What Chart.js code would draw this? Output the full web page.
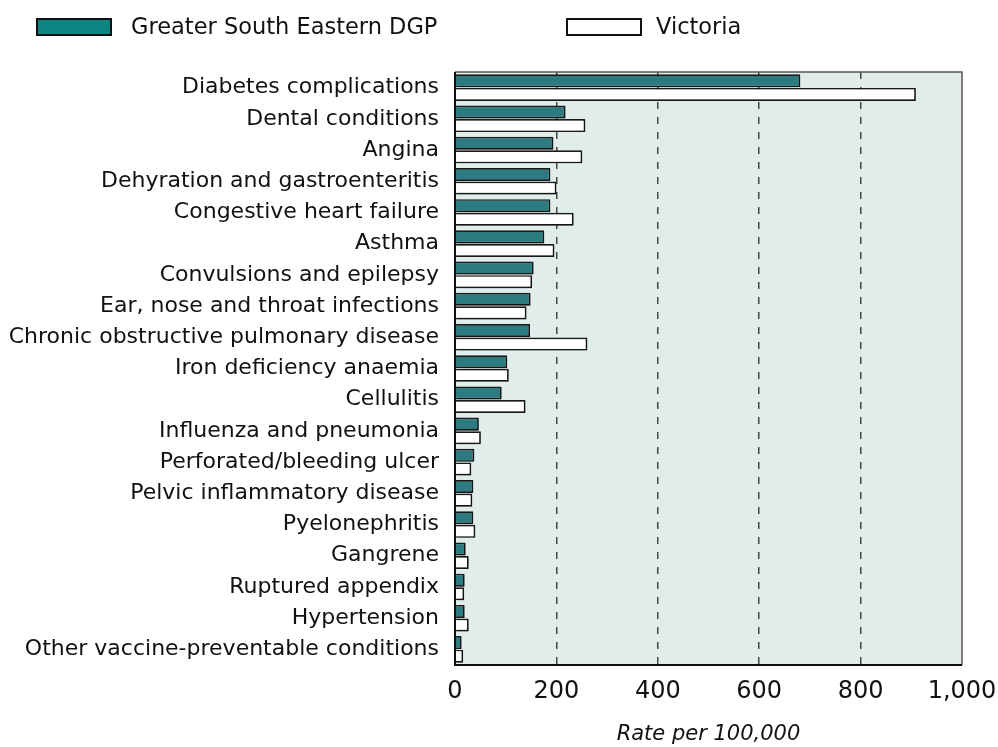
<!DOCTYPE html>
<html>
<head>
<meta charset="utf-8">
<script src="https://cdn.jsdelivr.net/npm/chart.js@4"></script>
<style>
  html, body { margin: 0; padding: 0; background: #fff; }
  #wrap { width: 998px; height: 747px; }
</style>
</head>
<body>
<div id="wrap"><canvas id="barChart" width="998" height="747"></canvas></div>
<script>
var conditions = [
    'Diabetes complications', 'Dental conditions', 'Angina', 'Dehyration and gastroenteritis',
    'Congestive heart failure', 'Asthma', 'Convulsions and epilepsy', 'Ear, nose and throat infections',
    'Chronic obstructive pulmonary disease', 'Iron deficiency anaemia', 'Cellulitis',
    'Influenza and pneumonia', 'Perforated/bleeding ulcer', 'Pelvic inflammatory disease',
    'Pyelonephritis', 'Gangrene', 'Ruptured appendix', 'Hypertension', 'Other vaccine-preventable conditions'
];
var southEastern = [681, 218, 194, 188, 188, 176, 155, 149, 148, 103, 92, 47, 38, 36, 36, 21, 19, 19, 13];
var victoria = [909, 257, 251, 200, 234, 196, 152, 141, 261, 106, 139, 51, 32, 34, 40, 27, 18, 27, 16];
var seriesNames = ['Greater South Eastern DGP', 'Victoria'];
var xTicks = [0, 200, 400, 600, 800, 1000];

var FONT = '"DejaVu Sans", sans-serif';

// background, frame and legend drawn around the chart area
var frame = {
    id: 'frame',
    beforeDraw: function (chart) {
        var a = chart.chartArea, ctx = chart.ctx;
        ctx.save();
        ctx.fillStyle = '#e1edeb';
        ctx.fillRect(a.left, a.top, a.right - a.left, a.bottom - a.top);
        ctx.restore();
    },
    beforeDatasetsDraw: function (chart) {
        var ctx = chart.ctx;
        ctx.save();
        ctx.shadowColor = 'rgba(0,0,0,0.22)';
        ctx.shadowOffsetX = 2;
        ctx.shadowOffsetY = 1;
        ctx.shadowBlur = 0;
    },
    afterDatasetsDraw: function (chart) {
        chart.ctx.restore();
    },
    afterDraw: function (chart) {
        var a = chart.chartArea, ctx = chart.ctx;
        ctx.save();
        ctx.strokeStyle = '#555';
        ctx.lineWidth = 1.5;
        ctx.beginPath();
        ctx.moveTo(a.left, a.top);
        ctx.lineTo(a.right, a.top);
        ctx.lineTo(a.right, a.bottom);
        ctx.stroke();
        ctx.strokeStyle = '#111';
        ctx.lineWidth = 2;
        ctx.beginPath();
        ctx.moveTo(a.left, a.top);
        ctx.lineTo(a.left, a.bottom);
        ctx.lineTo(a.right, a.bottom);
        ctx.stroke();

        // legend
        var items = [
            { x: 37, gap: 94, color: '#0d8582', text: seriesNames[0] },
            { x: 567, gap: 89, color: '#ffffff', text: seriesNames[1] }
        ];
        ctx.font = '22.5px ' + FONT;
        ctx.textBaseline = 'middle';
        items.forEach(function (it) {
            ctx.fillStyle = it.color;
            ctx.fillRect(it.x, 19, 74, 16);
            ctx.strokeStyle = '#111';
            ctx.lineWidth = 2;
            ctx.strokeRect(it.x, 19, 74, 16);
            ctx.fillStyle = '#111';
            ctx.fillText(it.text, it.x + it.gap, 28);
        });
        ctx.restore();
    }
};

var data = {
    labels: conditions,
    datasets: [{
        label: seriesNames[0],
        data: southEastern,
        backgroundColor: '#2b7b80',
        borderColor: '#1a1a1a',
        borderWidth: 1.7,
    },
    {
        label: seriesNames[1],
        data: victoria,
        backgroundColor: '#ffffff',
        borderColor: '#1a1a1a',
        borderWidth: 1.7,
    }]
};

var config = {
    type: 'bar',
    data: data,
    options: {
        indexAxis: 'y',
        responsive: false,
        animation: false,
        categoryPercentage: 0.87,
        barPercentage: 0.96,
        layout: { padding: { top: 72, right: 36, left: 0, bottom: 0 } },
        plugins: {
            legend: { display: false },
            tooltip: { enabled: false }
        },
        scales: {
            x: {
                min: 0,
                max: 1000,
                afterBuildTicks: function (scale) {
                    scale.ticks = xTicks.map(function (v) { return { value: v }; });
                },
                afterFit: function (scale) {
                    scale.height = 82;
                    scale.paddingRight = 0;
                    scale.paddingLeft = 0;
                },
                ticks: {
                    color: '#111',
                    font: { family: FONT, size: 24 },
                    padding: 12,
                    maxRotation: 0,
                    callback: function (v) { return v.toLocaleString('en-US'); }
                },
                grid: {
                    drawTicks: false,
                    lineWidth: 1.5,
                    color: function (c) {
                        var v = c.tick && c.tick.value;
                        return (v === 0 || v === 1000) ? 'rgba(0,0,0,0)' : '#444';
                    }
                },
                border: { display: false, dash: [7, 8] },
                title: {
                    display: true,
                    text: 'Rate per 100,000',
                    color: '#111',
                    font: { family: FONT, size: 21, style: 'italic' },
                    padding: { top: 8, bottom: 0 }
                }
            },
            y: {
                afterFit: function (scale) { scale.width = 455; },
                ticks: {
                    color: '#111',
                    font: { family: FONT, size: 22 },
                    padding: 16,
                    autoSkip: false
                },
                grid: { display: false, drawTicks: false },
                border: { display: false }
            }
        }
    },
    plugins: [frame]
};

var barChart = new Chart(
    document.getElementById('barChart'),
    config,
);
</script>
</body>
</html>
